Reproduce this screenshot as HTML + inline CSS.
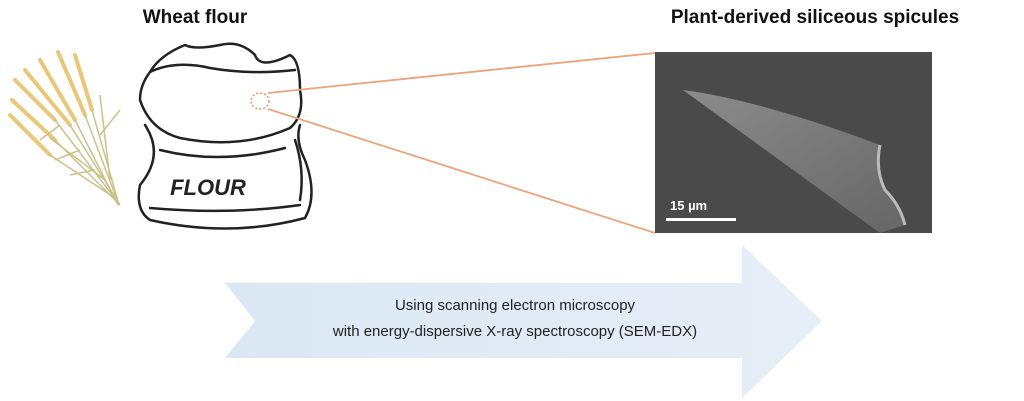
<!DOCTYPE html>
<html><head><style>
html,body{margin:0;padding:0;background:#fff;width:1024px;height:401px;overflow:hidden}
</style></head><body>
<svg width="1024" height="401" viewBox="0 0 1024 401" xmlns="http://www.w3.org/2000/svg">
<defs>
<linearGradient id="ar" x1="0" x2="1"><stop offset="0" stop-color="#dbe8f4"/><stop offset="1" stop-color="#e6eef7"/></linearGradient>
<linearGradient id="sp" x1="0" y1="0" x2="1" y2="1"><stop offset="0" stop-color="#8c8c8c"/><stop offset="1" stop-color="#666"/></linearGradient>
</defs>
<text x="195" y="23" font-family="Liberation Sans, sans-serif" font-weight="bold" font-size="19" text-anchor="middle" fill="#111">Wheat flour</text>
<text x="815" y="23" font-family="Liberation Sans, sans-serif" font-weight="bold" font-size="19" text-anchor="middle" fill="#111">Plant-derived siliceous spicules</text>
<!-- wheat -->
<g stroke="#e8c878" stroke-width="4" fill="none" stroke-linecap="round">
<path d="M15 80 L55 120"/><path d="M12 100 L55 140"/><path d="M25 70 L70 125"/><path d="M40 60 L75 120"/><path d="M58 52 L85 115"/><path d="M75 55 L92 110"/><path d="M10 115 L50 155"/>
</g>
<g stroke="#cbc28a" stroke-width="1.5" fill="none">
<path d="M55 120 L120 205"/><path d="M55 140 L120 205"/><path d="M70 125 L120 205"/><path d="M75 120 L118 205"/><path d="M85 115 L119 205"/><path d="M92 110 L119 205"/><path d="M50 155 L118 200"/><path d="M50 138 L105 180"/><path d="M100 95 L110 180"/><path d="M60 125 L40 140"/><path d="M80 150 L55 160"/><path d="M95 170 L70 175"/><path d="M100 135 L120 110"/>
</g>
<!-- sack -->
<g stroke="#222" stroke-width="2.5" fill="none" stroke-linejoin="round" stroke-linecap="round">
<path d="M150 72 Q140 85 140 100 Q150 130 180 138 Q240 150 290 128 Q305 115 300 90 Q300 60 290 55 Q260 70 255 55 Q240 40 220 45 Q195 50 185 45 Q160 55 150 72 Z"/>
<path d="M150 72 Q175 60 210 68 Q250 75 295 70"/>
<path d="M145 125 Q165 155 140 185 Q135 210 150 220 Q230 238 305 218 Q318 195 305 160 Q295 140 300 125"/>
<path d="M160 150 Q220 165 285 148"/>
<path d="M150 208 Q230 215 300 205"/>
<path d="M295 140 Q305 170 300 200"/>
</g>
<text x="208" y="195" font-family="Liberation Sans, sans-serif" font-weight="bold" font-style="italic" font-size="22" text-anchor="middle" fill="#222">FLOUR</text>
<!-- highlight -->
<ellipse cx="260" cy="101" rx="9" ry="8" fill="none" stroke="#e8915c" stroke-width="1.5" stroke-dasharray="2 2"/>
<line x1="268" y1="93" x2="655" y2="53" stroke="#eaa57c" stroke-width="1.8"/>
<line x1="268" y1="109" x2="655" y2="233" stroke="#eaa57c" stroke-width="1.8"/>
<!-- SEM -->
<rect x="655" y="52" width="277" height="181" fill="#4a4a4a"/>
<path d="M683 90 Q760 100 880 145 Q875 170 885 190 Q900 205 905 225 L880 233 Q800 175 683 90 Z" fill="url(#sp)"/>
<path d="M880 145 Q875 170 885 190 Q900 205 905 225" stroke="#bbb" stroke-width="3" fill="none"/>
<text x="670" y="210" font-family="Liberation Sans, sans-serif" font-weight="bold" font-size="13" fill="#fff">15 µm</text>
<rect x="666" y="218" width="70" height="3" fill="#fff"/>
<!-- arrow -->
<path d="M225 283 L742 283 L742 245 L822 321 L742 398 L742 358 L225 358 L255 321 Z" fill="url(#ar)"/>
<text x="515" y="310" font-family="Liberation Sans, sans-serif" font-size="15" text-anchor="middle" fill="#222">Using scanning electron microscopy</text>
<text x="515" y="336" font-family="Liberation Sans, sans-serif" font-size="15" text-anchor="middle" fill="#222">with energy-dispersive X-ray spectroscopy (SEM-EDX)</text>
</svg>
</body></html>
